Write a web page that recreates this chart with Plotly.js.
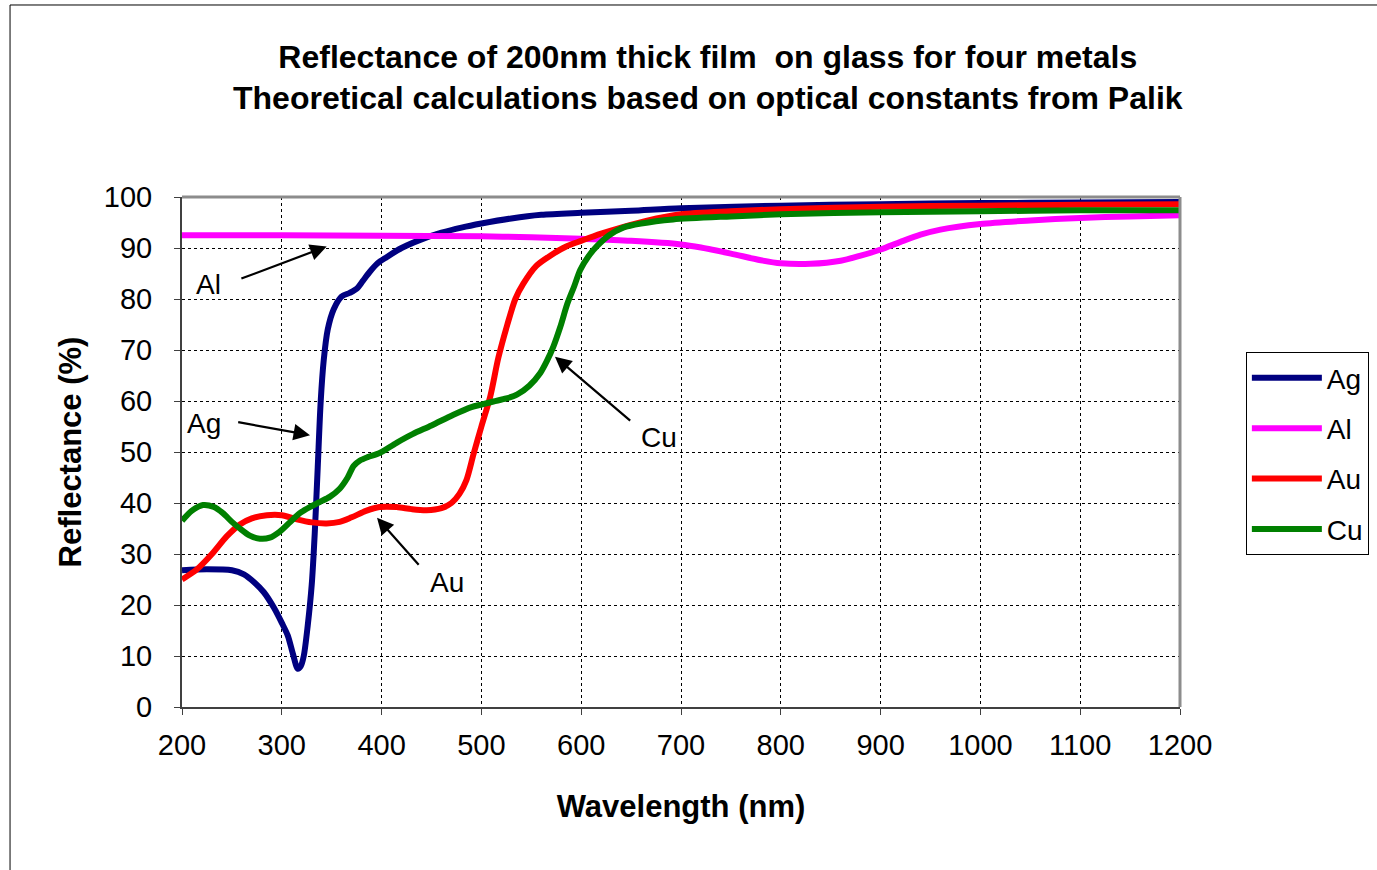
<!DOCTYPE html>
<html>
<head>
<meta charset="utf-8">
<script src="https://cdn.plot.ly/plotly-3.0.1.min.js"></script>
<style>
html,body{margin:0;padding:0;background:#fff;}
#chart{width:1377px;height:870px;}
</style>
</head>
<body>
<div id="chart"></div>
<script>
// ---- data ----
const seriesNames = ["Ag", "Al", "Au", "Cu"];
const seriesColors = ["#000080", "#FF00FF", "#FF0000", "#008000"];

const agX = [200,225,250,262,272,282,292,300,306,311,316,319,322,326,330,333,336,339,342,346,352,360,368,375,381,388,396,405,420,440,460,480,500,530,560,600,650,700,800,900,1000,1100,1200];
const agY = [26.8,27,26.8,26,24.5,22.5,19.5,16.5,14,10.5,7.5,8,10,16,24,34,47,60,68,74,78,80.5,81.2,82,83.5,85.3,87,88.2,90,91.7,93,94,94.8,95.8,96.5,96.9,97.3,97.8,98.3,98.6,98.8,98.9,99];

const alX = [200,300,400,500,550,600,650,700,720,750,780,800,830,860,880,900,920,940,960,1000,1050,1100,1150,1200];
const alY = [92.5,92.5,92.4,92.3,92.1,91.8,91.4,90.7,90.1,88.9,87.6,87,86.9,87.5,88.5,89.7,91.2,92.6,93.6,94.7,95.4,95.9,96.2,96.4];

const auX = [200,215,230,245,258,270,285,300,315,330,345,358,370,385,398,415,430,445,460,470,478,485,492,500,509,517,526,534,542,555,569,585,600,620,640,665,700,750,800,900,1000,1100,1200];
const auY = [25,27,30,33.5,35.8,37,37.6,37.6,36.8,36.2,36,36.3,37.2,38.5,39.2,39.2,38.8,38.6,39,40,41.8,44.5,49.5,55,61,68.5,75,80,83,86.5,88.5,90.3,91.4,92.8,94,95.3,96.6,97.2,97.6,98.1,98.3,98.5,98.6];

const cuX = [200,210,221,232,241,250,258,268,278,288,298,308,318,328,338,348,358,366,372,378,386,398,415,431,450,472,490,500,512,525,536,548,559,566,572,579,586,593,599,607,616,628,642,660,692,750,800,900,1000,1100,1200];
const cuY = [36.5,38.5,39.6,39.2,38,36.3,35,33.6,33,33.2,34.4,36.2,38,39.2,40.2,41.2,42.8,45,47.3,48.3,49,49.8,51.8,53.5,55.2,57.3,58.8,59.3,59.9,60.5,61.3,63,65.5,68,70.6,74.5,79,82.5,85.7,88.3,90.4,92.5,94,94.8,95.6,96.2,96.6,97,97.2,97.4,97.4];

const xTicks = [200,300,400,500,600,700,800,900,1000,1100,1200];
const yTicks = [0,10,20,30,40,50,60,70,80,90,100];

// annotation labels
const labelNames = ["Al", "Ag", "Au", "Cu"];
const labelTextX = [227, 222, 465.5, 678];
const labelTextY = [82.8, 55.5, 24.5, 52.9];
const arrowHeadX = [345, 328.3, 395.4, 573.7];
const arrowHeadY = [90.3, 53.3, 37.1, 68.7];
const arrowTailX = [258, 254.8, 438.5, 650.6];
const arrowTailY = [83.9, 55.9, 27.6, 55.9];

const titleLines = ["Reflectance of 200nm thick film  on glass for four metals",
                    "Theoretical calculations based on optical constants from Palik"];

// ---- build chart ----
const FONT = "'Liberation Sans', Arial, sans-serif";
const xs = [agX, alX, auX, cuX];
const ys = [agY, alY, auY, cuY];
const traces = seriesNames.map((n, i) => ({
  x: xs[i], y: ys[i], name: n, type: "scatter", mode: "lines",
  legendgroup: n,
  line: {color: seriesColors[i], width: 6, shape: "spline", smoothing: 0.8}
}));

const annotations = [];
labelNames.forEach((t, i) => {
  annotations.push({x: arrowHeadX[i], y: arrowHeadY[i], xref: "x", yref: "y",
    ax: arrowTailX[i], ay: arrowTailY[i], axref: "x", ayref: "y",
    text: "", showarrow: true, arrowhead: 2, arrowsize: 1.5, arrowwidth: 2.2, arrowcolor: "#000"});
  annotations.push({x: labelTextX[i], y: labelTextY[i], xref: "x", yref: "y",
    text: t, showarrow: false, font: {family: FONT, size: 28, color: "#000"}});
});

const layout = {
  width: 1377, height: 870,
  margin: {l: 182, r: 197, t: 197, b: 163, autoexpand: false},
  paper_bgcolor: "#fff", plot_bgcolor: "#fff",
  font: {family: FONT, color: "#000"},
  title: {text: titleLines.join("<br>"), x: 0.514, xref: "container", xanchor: "center",
          y: 0.922, yref: "container", yanchor: "top",
          font: {family: FONT, size: 32, color: "#000", weight: "bold"}},
  xaxis: {range: [200, 1200], tickvals: xTicks, ticktext: xTicks.map(String),
    showgrid: true, gridcolor: "#000", gridwidth: 1, griddash: "dot",
    showline: true, linecolor: "#404040", linewidth: 2, zeroline: false,
    ticks: "outside", ticklen: 6, tickcolor: "#404040", tickwidth: 1,
    ticklabelstandoff: 5,
    tickfont: {family: FONT, size: 29, color: "#000"},
    title: {text: "Wavelength (nm)", standoff: 36, font: {family: FONT, size: 31, color: "#000", weight: "bold"}}},
  yaxis: {range: [0, 100], tickvals: yTicks, ticktext: yTicks.map(String),
    showgrid: true, gridcolor: "#000", gridwidth: 1, griddash: "dot",
    showline: true, linecolor: "#404040", linewidth: 2, zeroline: false,
    ticks: "outside", ticklen: 6, tickcolor: "#404040", tickwidth: 1,
    ticklabelstandoff: 16,
    tickfont: {family: FONT, size: 29, color: "#000"},
    title: {text: "Reflectance (%)", standoff: 13, font: {family: FONT, size: 31, color: "#000", weight: "bold"}}},
  legend: {x: 1.066, xanchor: "left", y: 0.696, yanchor: "top",
    bordercolor: "#000", borderwidth: 1, bgcolor: "#fff",
    font: {family: FONT, size: 28, color: "#000"},
    itemwidth: 70, tracegroupgap: 11, traceorder: "grouped"},
  showlegend: true,
  annotations: annotations,
  shapes: [
    {type: "line", xref: "paper", yref: "paper", x0: 0, x1: 1, y0: 1, y1: 1, line: {color: "#8c8c8c", width: 3}},
    {type: "line", xref: "paper", yref: "paper", x0: 1, x1: 1, y0: 0, y1: 1, line: {color: "#8c8c8c", width: 3}},
    {type: "rect", xref: "paper", yref: "paper", x0: -0.1723, x1: 1.35, y0: -0.6, y1: 1.3765, line: {color: "#000", width: 1}, fillcolor: "rgba(0,0,0,0)"}
  ]
};

Plotly.newPlot("chart", traces, layout, {displayModeBar: false, responsive: false});
</script>
</body>
</html>
